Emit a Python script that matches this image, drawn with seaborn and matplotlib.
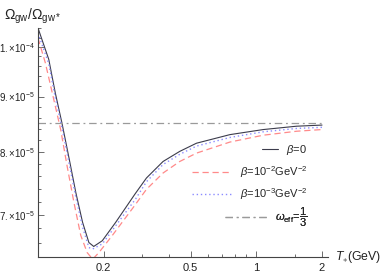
import numpy as np
import pandas as pd
import matplotlib
matplotlib.use('Agg')
import matplotlib.pyplot as plt
import matplotlib.ticker as mticker
import seaborn as sns

# values (T in GeV, Omega ratio in units of 1e-5)
T_beta0 = [0.100, 0.112, 0.120, 0.129, 0.139, 0.149, 0.160, 0.171, 0.180, 0.197,
           0.227, 0.278, 0.314, 0.374, 0.446, 0.532, 0.757, 1.076, 1.531, 2.0]
om_beta0 = [10.41, 9.74, 9.07, 8.49, 7.88, 7.34, 6.89, 6.60, 6.545, 6.625,
            6.89, 7.315, 7.57, 7.84, 8.01, 8.15, 8.30, 8.39, 8.45, 8.47]

T_beta2 = [0.100, 0.108, 0.118, 0.127, 0.136, 0.146, 0.157, 0.168, 0.178, 0.190,
           0.219, 0.273, 0.314, 0.374, 0.446, 0.532, 0.757, 1.076, 1.531, 2.0]
om_beta2 = [10.19, 9.67, 8.95, 8.39, 7.76, 7.19, 6.70, 6.46, 6.37, 6.46,
            6.70, 7.11, 7.39, 7.65, 7.84, 7.98, 8.17, 8.29, 8.36, 8.39]

T_beta3 = [0.100, 0.112, 0.120, 0.129, 0.139, 0.149, 0.160, 0.171, 0.178, 0.197,
           0.227, 0.280, 0.314, 0.374, 0.446, 0.532, 0.757, 1.076, 1.531, 2.0]
om_beta3 = [10.30, 9.65, 8.98, 8.41, 7.80, 7.27, 6.82, 6.53, 6.51, 6.58,
            6.84, 7.24, 7.51, 7.79, 7.96, 8.10, 8.25, 8.35, 8.41, 8.43]

T_weff = [0.1, 2.0]
om_weff = [8.5, 8.5]

labels = [r'$\beta$=0', r'$\beta$=10$^{-2}$GeV$^{-2}$', r'$\beta$=10$^{-3}$GeV$^{-2}$',
          r'$\omega_{\rm eff}$=$\dfrac{1}{3}$']

x_ticks = [0.2, 0.5, 1, 2]
x_ticklabels = ['0.2', '0.5', '1', '2']
y_ticks = [7e-5, 8e-5, 9e-5, 1e-4]
y_ticklabels = [r'$7.{\times}10^{-5}$', r'$8.{\times}10^{-5}$', r'$9.{\times}10^{-5}$',
                r'$1.{\times}10^{-4}$']

sns.set_style('ticks')
plt.rcParams['font.family'] = ['Liberation Sans', 'DejaVu Sans']
plt.rcParams['mathtext.fontset'] = 'custom'
plt.rcParams['mathtext.rm'] = 'Liberation Sans'
plt.rcParams['mathtext.it'] = 'Liberation Sans:italic'
plt.rcParams['mathtext.bf'] = 'Liberation Sans:bold'

fig = plt.figure(figsize=(3.82, 2.73), dpi=100)
ax = fig.add_axes([38 / 382, 1 - 257 / 273, 290 / 382, 229 / 273])

sns.lineplot(x=T_beta0, y=np.array(om_beta0) * 1e-5, ax=ax, color='#3c3c4c',
             lw=0.8, label=labels[0], sort=False)
sns.lineplot(x=T_beta2, y=np.array(om_beta2) * 1e-5, ax=ax, color='#ff8a8a',
             lw=0.9, linestyle=(0, (5, 3)), label=labels[1], sort=False)
sns.lineplot(x=T_beta3, y=np.array(om_beta3) * 1e-5, ax=ax, color='#8c8cff',
             lw=1.0, linestyle=(0, (1, 2)), label=labels[2], sort=False)
sns.lineplot(x=T_weff, y=np.array(om_weff) * 1e-5, ax=ax, color='#9a9a9a',
             lw=0.9, linestyle=(0, (6, 3, 1.5, 3)), label=labels[3], sort=False)

ax.set_xscale('log')
ax.set_yscale('log')
ax.set_xlim(0.1, 2.13)
ax.set_ylim(6.40e-5, 1.041e-4)

ax.xaxis.set_major_locator(mticker.FixedLocator(x_ticks))
ax.xaxis.set_major_formatter(mticker.FixedFormatter(x_ticklabels))
ax.xaxis.set_minor_locator(mticker.FixedLocator([0.3, 0.4, 0.6, 0.7, 0.8, 0.9, 1.5]))
ax.xaxis.set_minor_formatter(mticker.NullFormatter())
ax.yaxis.set_major_locator(mticker.FixedLocator(y_ticks))
ax.yaxis.set_major_formatter(mticker.FixedFormatter(y_ticklabels))
ax.yaxis.set_minor_locator(mticker.FixedLocator(
    [6.6e-5, 6.8e-5, 7.2e-5, 7.4e-5, 7.6e-5, 7.8e-5, 8.2e-5, 8.4e-5, 8.6e-5, 8.8e-5,
     9.2e-5, 9.4e-5, 9.6e-5, 9.8e-5, 1.02e-4, 1.04e-4]))
ax.yaxis.set_minor_formatter(mticker.NullFormatter())

ax.tick_params(which='both', direction='in', colors='#555555', labelcolor='#222222',
               width=0.6)
ax.tick_params(which='major', length=4)
ax.tick_params(which='minor', length=2)
ax.tick_params(axis='x', pad=4, labelsize=8)
ax.tick_params(axis='y', pad=2, labelsize=7)

sns.despine(ax=ax)
for side in ['left', 'bottom']:
    ax.spines[side].set_color('#444444')
    ax.spines[side].set_linewidth(0.8)

ax.set_xlabel('')
ax.set_ylabel('')
fig.text(4 / 382, 1 - 16 / 273, r'$\Omega_{\rm gw}/\Omega_{\rm gw*}$', fontsize=10,
         ha='left', va='center', color='#222222')
fig.text(335 / 382, 1 - 257 / 273, r'$T_{\ast}$(GeV)', fontsize=8.8,
         ha='left', va='center', color='#222222')

# legend entries right-aligned like the reference, one small legend per row
handles, leg_labels = ax.get_legend_handles_labels()
ax.get_legend().remove()
row_y = [0.467, 0.371, 0.275, 0.175]
row_len = [1.45, 3.6, 3.6, 3.8]
for h, lab, yy, hl in zip(handles, leg_labels, row_y, row_len):
    leg = ax.legend([h], [lab], loc='center right', bbox_to_anchor=(0.928, yy),
                    frameon=False, fontsize=8, handlelength=hl, handletextpad=0.7,
                    borderpad=0, borderaxespad=0)
    ax.add_artist(leg)

fig.savefig('out.png', dpi=100)
